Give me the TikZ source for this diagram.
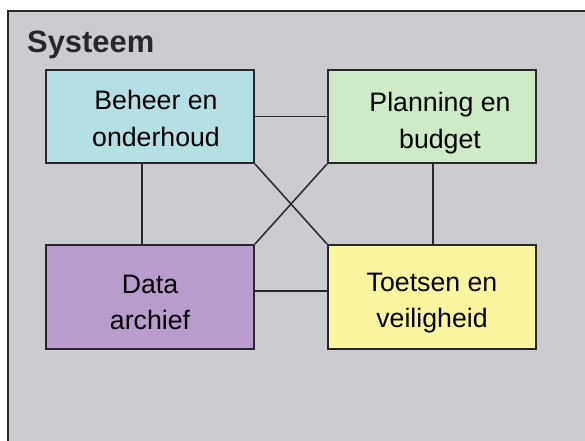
\documentclass[tikz,border=0pt]{standalone}
\usepackage{fontspec}
\setmainfont{Liberation Sans}
\definecolor{bggray}{RGB}{204,204,208}
\definecolor{cyanbox}{RGB}{180,224,228}
\definecolor{greenbox}{RGB}{206,234,198}
\definecolor{purplebox}{RGB}{184,156,204}
\definecolor{yellowbox}{RGB}{250,246,160}
\definecolor{edge}{RGB}{40,40,44}
\begin{document}
\begin{tikzpicture}[x=1bp,y=-1bp,
  partbox/.style={draw=edge,line width=2bp,minimum width=208bp,minimum height=93bp,
    inner sep=0pt,anchor=north west},
  parttext/.style={inner sep=0pt,align=center,font=\fontsize{26.8}{36.5}\selectfont},
  link/.style={draw=edge,line width=1.5bp}]
\useasboundingbox (0,0) rectangle (585,441);
\fill[white] (0,0) rectangle (585,441);
\begin{scope}
\clip (0,0) rectangle (585,441);
\draw[draw=edge,line width=2.4bp,fill=bggray] (8,11) rectangle (600,460);
\end{scope}
\node[anchor=base west,font=\fontsize{31}{36}\selectfont\bfseries,text=edge,inner sep=0pt] (title) at (27,53) {Systeem};
\node[partbox,fill=cyanbox] (bh) at (45,69) {};
\node[partbox,fill=greenbox] (pb) at (327,69) {};
\node[partbox,fill=purplebox,minimum height=104bp] (da) at (45,244) {};
\node[partbox,fill=yellowbox,minimum height=104bp] (tv) at (327,244) {};
\node[parttext] (bht) at ([xshift=6bp,yshift=-2bp]bh.center) {Beheer en\\onderhoud};
\node[parttext] (pbt) at ([xshift=8bp,yshift=-6.5bp]pb.center) {Planning en\\budget};
\node[parttext] (dat) at ([yshift=-5.5bp]da.center) {Data\\archief};
\node[parttext] (tvt) at ([yshift=-6bp]tv.center) {Toetsen en\\veiligheid};
\coordinate (bhv) at (142,162);
\coordinate (dav) at (142,244);
\coordinate (pbv) at (433,162);
\coordinate (tvv) at (433,244);
\draw[link] (bh.east) -- (pb.west);
\draw[link] (da.east |- 0,291) -- (tv.west |- 0,291);
\draw[link] (bhv) -- (dav);
\draw[link] (pbv) -- (tvv);
\draw[link] (bh.south east) -- (tv.north west);
\draw[link] (pb.south west) -- (da.north east);
\end{tikzpicture}
\end{document}
